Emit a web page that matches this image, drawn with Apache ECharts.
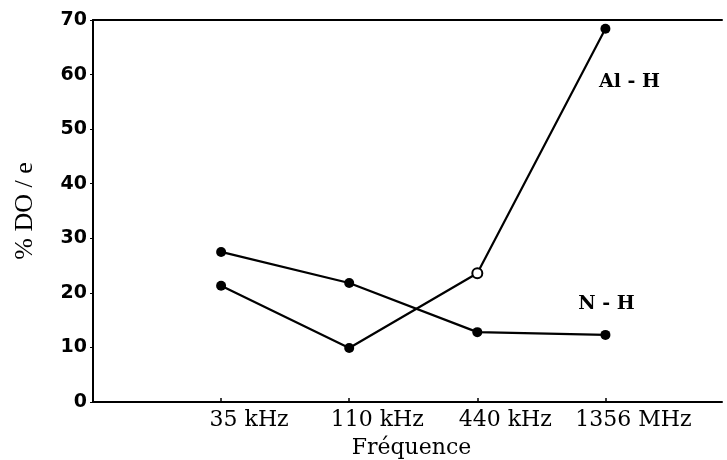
<!DOCTYPE html>
<html>
<head>
<meta charset="utf-8">
<script src="https://cdn.jsdelivr.net/npm/echarts@6/dist/echarts.min.js"></script>
<style>
  html, body { margin: 0; padding: 0; background: #fff; }
  #chart { width: 727px; height: 460px; }
</style>
</head>
<body>
<div id="chart"></div>
<script>
var categories = ['35 kHz', '110 kHz', '440 kHz', '1356 MHz'];
var xPos = [1, 2, 3, 4];
var alH = [21.3, 9.9, 23.6, 68.4];
var nH = [27.5, 21.8, 12.8, 12.3];
var yTicks = [0, 10, 20, 30, 40, 50, 60, 70];

var chart = echarts.init(document.getElementById('chart'), null, { renderer: 'canvas' });

function pairs(vals, lastLabel, hollowIdx) {
    return vals.map(function (v, i) {
        var item = { value: [xPos[i], v] };
        if (i === hollowIdx) {
            item.itemStyle = { color: '#fff', borderColor: '#000', borderWidth: 2 };
        }
        if (i === vals.length - 1) {
            item.label = lastLabel;
        }
        return item;
    });
}

var labelFont = {
    show: true,
    fontFamily: 'DejaVu Serif',
    fontWeight: 'bold',
    fontSize: 19,
    color: '#000'
};

var option = {
    animation: false,
    grid: { left: 93, top: 20, right: 5, bottom: 58, outerBoundsMode: 'none' },
    xAxis: [{
        type: 'value',
        min: 0,
        max: 4.91,
        name: 'Fréquence',
        nameLocation: 'middle',
        nameGap: 35,
        nameTextStyle: { fontFamily: 'DejaVu Serif', fontSize: 22, color: '#000', padding: [0, 0, 0, 8] },
        axisLine: { lineStyle: { color: '#000', width: 2 } },
        axisTick: { show: true, inside: true, length: 4, customValues: xPos, lineStyle: { color: '#000', width: 1.5 } },
        axisLabel: {
            customValues: xPos,
            formatter: function (v) { return categories[Math.round(v) - 1] || ''; },
            fontFamily: 'DejaVu Serif',
            fontSize: 22,
            color: '#000',
            margin: 7,
            padding: [0, 0, 0, 56]
        },
        splitLine: { show: false }
    }, {
        type: 'value',
        position: 'top',
        min: 0,
        max: 4.91,
        axisLine: { show: true, onZero: false, lineStyle: { color: '#000', width: 2 } },
        axisTick: { show: false },
        axisLabel: { show: false },
        splitLine: { show: false }
    }],
    yAxis: {
        type: 'value',
        min: 0,
        max: 70,
        interval: 10,
        name: '% DO / e',
        nameLocation: 'middle',
        nameGap: 55,
        nameTextStyle: { fontFamily: 'Liberation Serif', fontSize: 26, color: '#000' },
        axisLine: { show: true, lineStyle: { color: '#000', width: 2 } },
        axisTick: { show: true, inside: false, length: 3, lineStyle: { color: '#000' } },
        axisLabel: {
            customValues: yTicks,
            fontFamily: 'DejaVu Sans',
            fontWeight: 'bold',
            fontSize: 19,
            color: '#000',
            margin: 6
        },
        splitLine: { show: false }
    },
    series: [{
        name: 'Al - H',
        type: 'line',
        symbol: 'circle',
        symbolSize: 10,
        itemStyle: { color: '#000' },
        lineStyle: { color: '#000', width: 2.2 },
        data: pairs(alH, Object.assign({}, labelFont, {
            position: 'bottom', offset: [24, 34],
            formatter: 'Al - H'
        }), 2)
    }, {
        name: 'N - H',
        type: 'line',
        symbol: 'circle',
        symbolSize: 10,
        itemStyle: { color: '#000' },
        lineStyle: { color: '#000', width: 2.2 },
        data: pairs(nH, Object.assign({}, labelFont, {
            position: 'top', offset: [1, -11],
            formatter: 'N - H'
        }), -1)
    }]
};

chart.setOption(option);
</script>
</body>
</html>
